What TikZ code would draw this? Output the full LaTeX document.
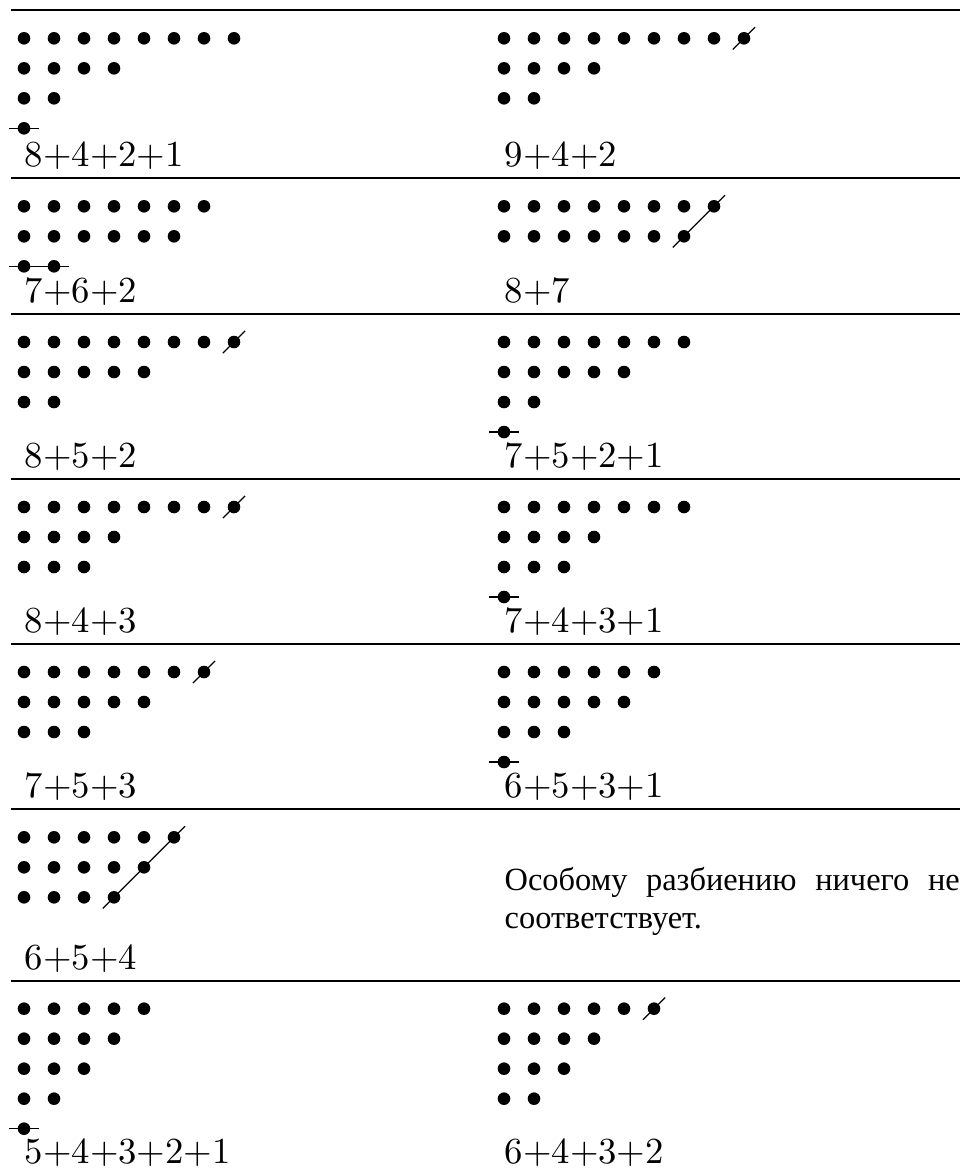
\documentclass[tikz,border=0pt]{standalone}
\usepackage{fontspec}
\newfontfamily\cyrfont{Liberation Serif}

% ряды точек: #1 -- x первой точки, #2 -- y первого ряда, #3 -- длины рядов
\newcommand{\ryady}[3]{%
  \foreach \n [count=\r from 0] in {#3}{%
    \foreach \k in {1,...,\n}{%
      \fill (#1+\k-1,#2-\r) circle (1.75pt);
    }%
  }%
}
% косая черта через одну точку
\newcommand{\kosaya}[2]{\draw[cut] (#1-0.37,#2-0.37) -- (#1+0.37,#2+0.37);}

\begin{document}
\begin{tikzpicture}[x=8.333pt,y=8.333pt,
    rule/.style={line width=0.6pt},
    cut/.style={line width=0.35pt},
    lbl/.style={anchor=base west,inner sep=0pt,font=\fontsize{10.2}{12}\selectfont}]
  \useasboundingbox (0,0) rectangle (32,-38.967);

  % Линии таблицы
  \foreach \y in {0.343,5.943,10.467,15.967,21.467,26.977,32.69}
    \draw[rule] (0.367,-\y) -- (32,-\y);

  % 8+4+2+1 и 9+4+2
  \ryady{0.8}{-1.277}{8,4,2,1}
  \draw[cut] (0.3,-4.277) -- (1.3,-4.277);
  \node[lbl] (a1) at (0.8,-5.56) {8+4+2+1};
  \ryady{16.8}{-1.277}{9,4,2}
  \kosaya{24.8}{-1.277}
  \node[lbl] (b1) at (16.8,-5.56) {9+4+2};

  % 7+6+2 и 8+7
  \ryady{0.8}{-6.877}{7,6,2}
  \draw[cut] (0.3,-8.877) -- (2.3,-8.877);
  \node[lbl] (a2) at (0.8,-10.083) {7+6+2};
  \ryady{16.8}{-6.877}{8,7}
  \draw[cut] (22.43,-8.247) -- (24.17,-6.507);
  \node[lbl] (b2) at (16.8,-10.083) {8+7};

  % 8+5+2 и 7+5+2+1
  \ryady{0.8}{-11.4}{8,5,2}
  \kosaya{7.8}{-11.4}
  \node[lbl] (a3) at (0.8,-15.583) {8+5+2};
  \ryady{16.8}{-11.4}{7,5,2,1}
  \draw[cut] (16.3,-14.4) -- (17.3,-14.4);
  \node[lbl] (b3) at (16.8,-15.583) {7+5+2+1};

  % 8+4+3 и 7+4+3+1
  \ryady{0.8}{-16.9}{8,4,3}
  \kosaya{7.8}{-16.9}
  \node[lbl] (a4) at (0.8,-21.083) {8+4+3};
  \ryady{16.8}{-16.9}{7,4,3,1}
  \draw[cut] (16.3,-19.9) -- (17.3,-19.9);
  \node[lbl] (b4) at (16.8,-21.083) {7+4+3+1};

  % 7+5+3 и 6+5+3+1
  \ryady{0.8}{-22.4}{7,5,3}
  \kosaya{6.8}{-22.4}
  \node[lbl] (a5) at (0.8,-26.593) {7+5+3};
  \ryady{16.8}{-22.4}{6,5,3,1}
  \draw[cut] (16.3,-25.4) -- (17.3,-25.4);
  \node[lbl] (b5) at (16.8,-26.593) {6+5+3+1};

  % 6+5+4 и текст
  \ryady{0.8}{-27.91}{6,5,4}
  \draw[cut] (3.43,-30.28) -- (6.17,-27.54);
  \node[lbl] (a6) at (0.8,-32.307) {6+5+4};
  \node[anchor=base west,inner sep=0pt,text width=126.4pt,align=justify,
        font=\cyrfont\fontsize{9}{10.6}\selectfont] (b6) at (16.8,-29.667)
    {Особому разбиению ничего не соответствует.};

  % 5+4+3+2+1 и 6+4+3+2
  \ryady{0.8}{-33.623}{5,4,3,2,1}
  \draw[cut] (0.3,-37.623) -- (1.3,-37.623);
  \node[lbl] (a7) at (0.8,-38.767) {5+4+3+2+1};
  \ryady{16.8}{-33.623}{6,4,3,2}
  \kosaya{21.8}{-33.623}
  \node[lbl] (b7) at (16.8,-38.767) {6+4+3+2};
\end{tikzpicture}
\end{document}
